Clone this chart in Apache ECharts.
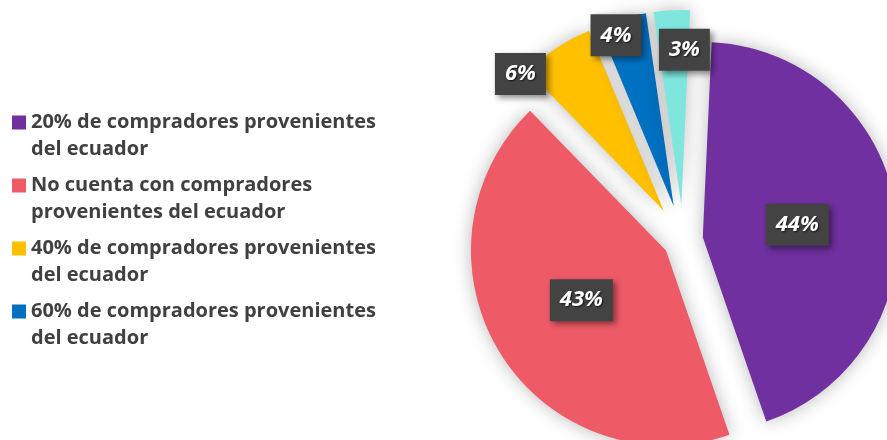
<!DOCTYPE html>
<html>
<head>
<meta charset="utf-8">
<script src="https://cdn.jsdelivr.net/npm/echarts@6/dist/echarts.min.js"></script>
<style>
  html, body { margin: 0; padding: 0; background: #fff; }
  #chart { width: 887px; height: 440px; }
</style>
</head>
<body>
<div id="chart"></div>
<script>
// datos del grafico
const names = [
  '20% de compradores provenientes\ndel ecuador',
  'No cuenta con compradores\nprovenientes del ecuador',
  '40% de compradores provenientes\ndel ecuador',
  '60% de compradores provenientes\ndel ecuador',
  'Otros'
];
const values = [44, 43, 6, 4, 3];
const colors = ['#7030A0', '#EF5A67', '#FFC000', '#0070C0', '#7FE6DE'];
const legendNames = names.slice(0, 4);

// porciones grandes / pequeñas (se separan distinto)
const bigSlice = [true, true, false, false, false];
// desplazamiento de etiquetas
const labelShift = [[-5, 2], [1, -3], [-88, -53], [-31, -74], [8, -55]];

let myChart = echarts.init(document.getElementById('chart'));

const labelStyle = {
  show: true,
  position: 'inside',
  formatter: '{c}%',
  color: '#fff',
  fontFamily: 'Open Sans',
  fontSize: 22,
  fontWeight: 'bold',
  fontStyle: 'italic',
  backgroundColor: '#434343',
  padding: [10, 10, 10, 10],
  textShadowColor: 'rgba(0,0,0,0.7)',
  textShadowBlur: 2,
  textShadowOffsetX: 1,
  textShadowOffsetY: 1,
  shadowColor: 'rgba(0,0,0,0.45)',
  shadowBlur: 6,
  shadowOffsetX: 3,
  shadowOffsetY: 3
};

function buildData(big) {
  return values.map((v, i) => {
    let visible = bigSlice[i] === big;
    return {
      name: names[i],
      value: v,
      selected: visible,
      itemStyle: visible ? {
        color: colors[i],
        shadowBlur: 18,
        shadowColor: 'rgba(0,0,0,0.28)'
      } : { color: 'rgba(0,0,0,0)', shadowBlur: 0 },
      label: visible ? {} : { show: false }
    };
  });
}

function makeSeries(big, offset) {
  return {
    type: 'pie',
    center: [683, 240],
    radius: 195,
    startAngle: 87.4,
    clockwise: true,
    silent: true,
    selectedMode: 'multiple',
    selectedOffset: offset,
    avoidLabelOverlap: false,
    animation: false,
    labelLine: { show: false },
    label: labelStyle,
    labelLayout: function (p) {
      let s = labelShift[p.dataIndex];
      return { dx: s[0], dy: s[1] };
    },
    emphasis: { disabled: true },
    data: buildData(big)
  };
}

let option = {
  backgroundColor: '#fff',
  animation: false,
  legend: {
    orient: 'vertical',
    left: 12,
    top: 82,
    padding: 0,
    itemWidth: 14,
    itemHeight: 14,
    itemGap: -18,
    icon: 'rect',
    selectedMode: false,
    // linea vacia al inicio para que el icono quede en la primera linea
    formatter: n => '\n' + n,
    data: legendNames.map((n, i) => ({ name: n, itemStyle: { color: colors[i] } })),
    textStyle: {
      color: '#404040',
      fontFamily: 'Open Sans',
      fontSize: 20,
      fontWeight: 'bold',
      lineHeight: 27
    }
  },
  series: [makeSeries(true, 20), makeSeries(false, 35)]
};

myChart.setOption(option);
</script>
</body>
</html>
